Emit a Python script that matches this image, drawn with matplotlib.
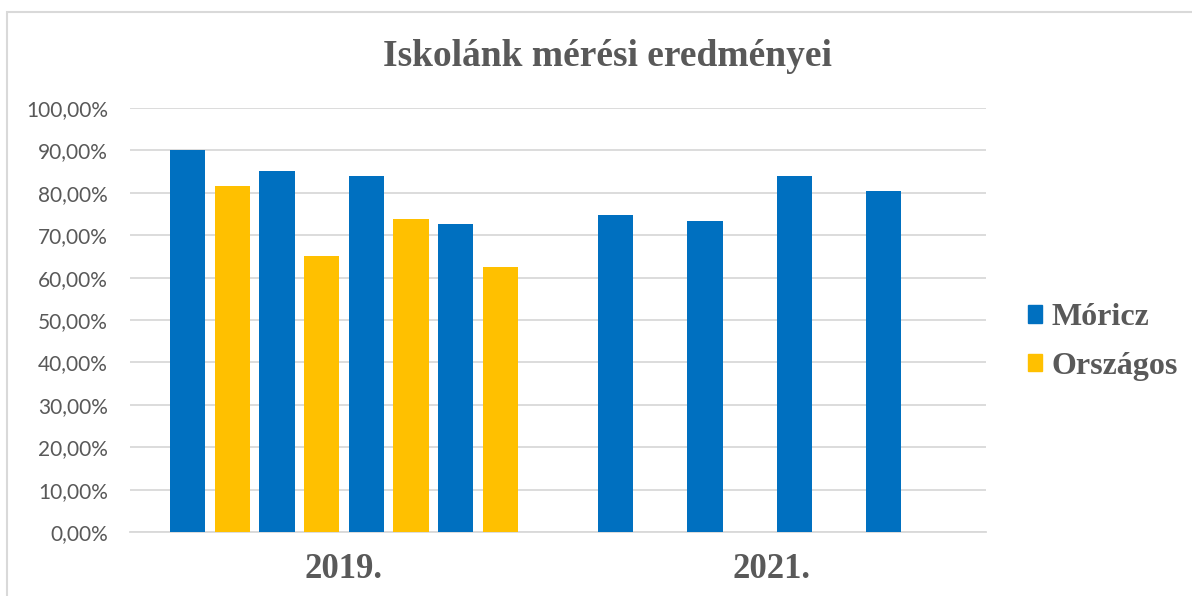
import matplotlib.pyplot as plt
from matplotlib.patches import Patch, Rectangle
from matplotlib.ticker import FuncFormatter

# adatok (%)
years = ['2019.', '2021.']
moricz = [[90.0, 85.2, 84.0, 72.7], [74.7, 73.3, 84.0, 80.4]]
orszagos = [[81.5, 65.0, 73.8, 62.4], [None, None, None, None]]
series_names = ['Móricz', 'Országos']
colors = ['#0070C0', '#FFC000']

gray = '#595959'
grid_gray = '#D9D9D9'

fig = plt.figure(figsize=(11.92, 5.96), dpi=100)
ax = fig.add_axes([130 / 1192, 1 - 532 / 596, 856 / 1192, 424 / 596])

pitch = 0.1044
width = 0.083
for c in range(len(years)):
    for k in range(4):
        for s, vals in enumerate([moricz, orszagos]):
            v = vals[c][k]
            if v is None:
                continue
            slot = 2 * k + s
            ax.bar(c + (slot - 3.5) * pitch, v / 100, width=width,
                   color=colors[s], zorder=3)

ax.set_xlim(-0.5, 1.5)
ax.set_ylim(0, 1)
ax.set_yticks([i / 10 for i in range(11)])
ax.yaxis.set_major_formatter(FuncFormatter(lambda v, p: f'{v * 100:.2f}%'.replace('.', ',')))
ax.grid(axis='y', color=grid_gray, linewidth=1.3, zorder=0)
for side in ['top', 'right', 'left']:
    ax.spines[side].set_visible(False)
ax.spines['bottom'].set_color(grid_gray)
ax.spines['bottom'].set_linewidth(1.3)
ax.tick_params(axis='both', length=0)
ax.tick_params(axis='y', pad=16, labelsize=15, labelcolor=gray)
ax.set_xticks(range(len(years)))
ax.set_xticklabels(years, fontfamily='Liberation Serif', fontweight='bold',
                   fontsize=25, color=gray)
ax.tick_params(axis='x', pad=15)
for t in ax.get_yticklabels():
    t.set_fontfamily('Lato')

fig.text(0.5096, 0.906, 'Iskolánk mérési eredményei', ha='center', va='center',
         fontfamily='Liberation Serif', fontweight='bold', fontsize=27, color=gray)

handles = [Patch(color=colors[i], label=series_names[i]) for i in range(2)]
fig.legend(handles=handles, loc='center left', bbox_to_anchor=(1028 / 1192, 1 - 342 / 596),
           frameon=False, borderpad=0, borderaxespad=0, handlelength=0.45, handleheight=0.45,
           handletextpad=0.3, labelspacing=0.6,
           prop={'family': 'Liberation Serif', 'weight': 'bold', 'size': 23},
           labelcolor=gray)

fig.patches.append(Rectangle((6.5 / 1192, -0.1), 1.2, 1.1 - 11.5 / 596, transform=fig.transFigure,
                             fill=False, edgecolor=grid_gray, linewidth=1.5))

fig.savefig('out.png', dpi=100)
